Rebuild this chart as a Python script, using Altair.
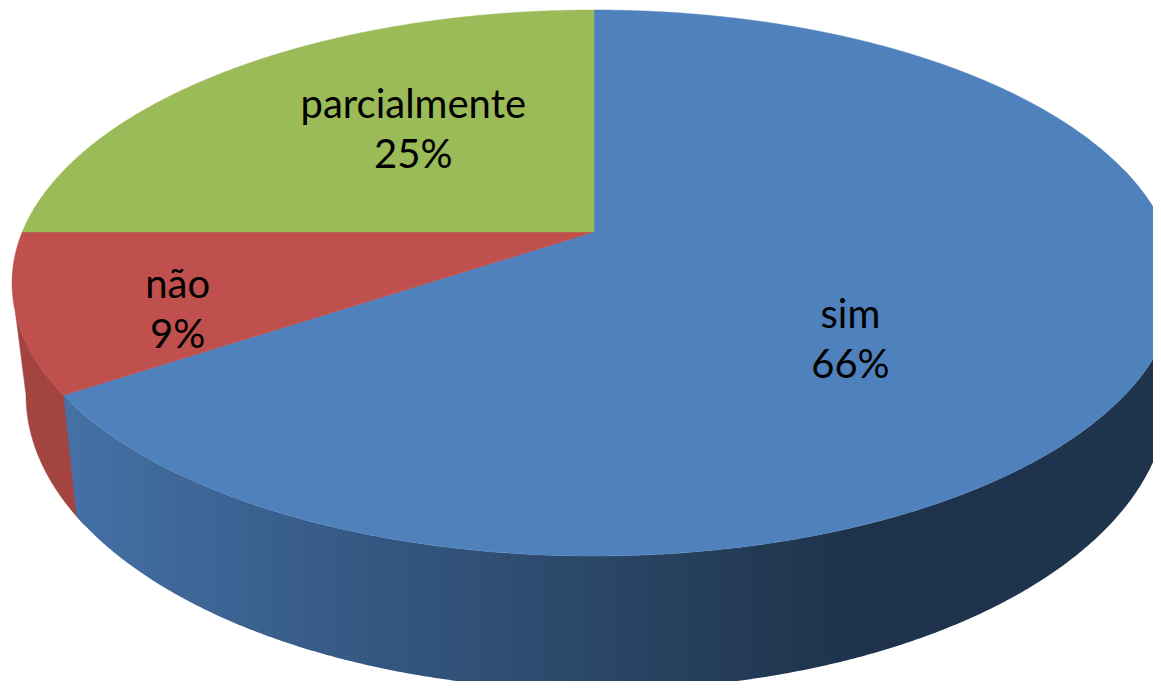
import numpy as np
import pandas as pd
import altair as alt

# Data: responses per category, clockwise from 12 o'clock
categories = ["sim", "não", "parcialmente"]
counts = [21, 3, 8]

# Style / layout
top_colors = ["#4F81BD", "#C0504D", "#9BBB59"]
label_nudge = [(-63, 5), (-77, 7), (44, -22)]
W, H = 1145, 673
OFFSET = 8
CX, CY, RX, RY = 594, 283, 582, 273      # top face ellipse
BX, BY, BRX, BRY = 597, 395, 571, 295    # bottom rim ellipse
K = 0.187                                # perspective shift of the pie's centre
S = np.sqrt(1 - K * K)


def project(theta, r=1.0):
    x, y = r * np.sin(theta), r * np.cos(theta)
    d = 1 + K * y
    return x * S / d, (y + K) / d


def left_theta(v):
    """Angle on the left half of the rim whose projected height is v."""
    y = (v - K) / (1 - K * v)
    return 2 * np.pi - np.arccos(y)


def top_xy(theta, r=1.0):
    u, v = project(theta, r)
    return CX + RX * u, CY - RY * v


def bottom_xy(theta):
    u, v = project(theta)
    return BX + BRX * u, BY - BRY * v


total = sum(counts)
edges = np.concatenate([[0], np.cumsum(counts)]) / total * 2 * np.pi

x_scale = alt.Scale(domain=[OFFSET, OFFSET + W], nice=False, zero=False)
y_scale = alt.Scale(domain=[OFFSET + H, OFFSET], nice=False, zero=False)


def polygon(name, xs, ys):
    return pd.DataFrame({"name": name, "i": np.arange(len(xs)), "x": xs, "y": ys})


def shape(df, **mark):
    return (
        alt.Chart(df)
        .mark_line(filled=True, clip=True, interpolate="linear", **mark)
        .encode(
            x=alt.X("x:Q", scale=x_scale, axis=None),
            y=alt.Y("y:Q", scale=y_scale, axis=None),
            order="i:Q",
        )
    )


def wall(t0, t1_top, t1_bottom):
    tx, ty = top_xy(np.linspace(t0, t1_top, 500))
    bx, by = bottom_xy(np.linspace(t1_bottom, t0, 500))
    return np.concatenate([tx, bx]), np.concatenate([ty, by])


def face(t0, t1):
    t = np.linspace(t0, t1, 500)
    x, y = top_xy(t)
    ax, ay = top_xy(np.array([0.0]), 0.0)
    return np.concatenate([ax, x, ax]), np.concatenate([ay, y, ay])


layers = []

# side walls: the left one ends on the straight silhouette between both rims;
# it starts slightly under the blue wall so that no seam shows between them
rx, ry = wall(edges[1] - 0.03, left_theta(-0.11), left_theta(0.0))
layers.append(shape(polygon("red wall", rx, ry), fill="#A34441", stroke="#A34441", strokeWidth=0.5))

bx, by = wall(np.pi / 2 - 0.25, edges[1], edges[1])
blue_gradient = alt.Gradient(
    gradient="linear",
    x1=0, y1=0, x2=1, y2=0,
    stops=[
        alt.GradientStop(color="#4571A6", offset=0.0),
        alt.GradientStop(color="#33557F", offset=0.30),
        alt.GradientStop(color="#2A4766", offset=0.48),
        alt.GradientStop(color="#1E324B", offset=0.71),
        alt.GradientStop(color="#1F344D", offset=1.0),
    ],
)
layers.append(shape(polygon("blue wall", bx, by), fill=blue_gradient, strokeWidth=0))

# top faces
for i, c in enumerate(categories):
    fx, fy = face(edges[i], edges[i + 1])
    layers.append(shape(polygon(c, fx, fy), fill=top_colors[i], stroke=top_colors[i], strokeWidth=0.5))

# labels
for i, c in enumerate(categories):
    mid = (edges[i] + edges[i + 1]) / 2
    lx, ly = top_xy(mid, 0.6)
    text = f"{c}\n{round(counts[i] / total * 100)}%"
    df = pd.DataFrame({"x": [lx], "y": [ly], "label": [text]})
    layers.append(
        alt.Chart(df)
        .mark_text(
            font="Lato", fontSize=40, color="black", lineBreak="\n", lineHeight=50,
            align="center", baseline="middle", dx=label_nudge[i][0], dy=label_nudge[i][1],
        )
        .encode(
            x=alt.X("x:Q", scale=x_scale, axis=None),
            y=alt.Y("y:Q", scale=y_scale, axis=None),
            text="label:N",
        )
    )

chart = (
    alt.layer(*layers)
    .properties(width=W, height=H, padding=0, background="white")
    .configure_view(stroke=None)
)

chart.save("out.html", embed_options={"renderer": "svg", "actions": False})
